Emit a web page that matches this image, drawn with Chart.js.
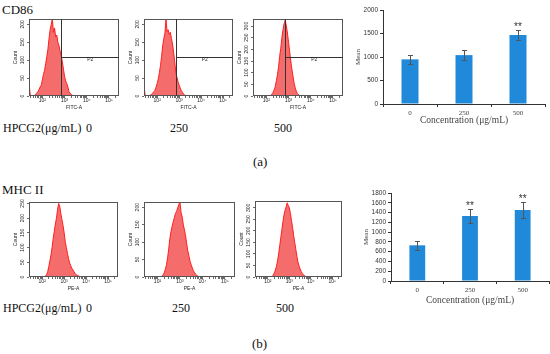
<!DOCTYPE html>
<html><head><meta charset="utf-8">
<script src="https://cdn.jsdelivr.net/npm/chart.js@4/dist/chart.umd.min.js"></script>
<style>
html,body{margin:0;padding:0;background:#fff;}
body{width:550px;height:354px;position:relative;overflow:hidden;font-family:"Liberation Serif","Times New Roman",serif;}
canvas{position:absolute;}
.t{position:absolute;color:#111;white-space:pre;line-height:1;}
</style></head><body>
<div class="t" style="left:2px;top:3px;font-size:13px">CD86</div>
<div class="t" style="left:3px;top:122px;font-size:12px">HPCG2(μg/mL)</div>
<div class="t" style="left:86px;top:122px;font-size:12px">0</div>
<div class="t" style="left:170px;top:122px;font-size:12px">250</div>
<div class="t" style="left:274px;top:122px;font-size:12px">500</div>
<div class="t" style="left:253px;top:155px;font-size:13px">(a)</div>
<div class="t" style="left:2px;top:183px;font-size:13px">MHC II</div>
<div class="t" style="left:3px;top:302px;font-size:12px">HPCG2(μg/mL)</div>
<div class="t" style="left:86px;top:302px;font-size:12px">0</div>
<div class="t" style="left:172px;top:302px;font-size:12px">250</div>
<div class="t" style="left:276px;top:302px;font-size:12px">500</div>
<div class="t" style="left:252px;top:337px;font-size:13px">(b)</div>
<script>
// ---------- data ----------
const histBins = [1.40,1.45,1.50,1.55,1.60,1.65,1.70,1.75,1.80,1.85,1.90,1.95,2.00,2.05,2.10,2.15,2.20,2.25,2.30,2.35,2.40,2.45,2.50,2.55,2.60,2.65,2.70,2.75,2.80,2.85,2.90,2.95,3.00,3.05,3.10,3.15,3.20,3.25,3.30,3.35,3.40,3.45,3.50,3.55,3.60,3.65,3.70,3.75,3.80,3.85,3.90];
const cd86Count0   = [40,5,0,0,0,2,5,8,12,18,25,30,45,60,72,90,110,130,160,185,200,215,178,190,165,170,150,140,125,112,95,75,55,42,35,25,12,8,4,2,1,0,0,0,0,0,0,0,0,0,0];
const cd86Count250 = [28,4,0,0,0,0,3,5,8,12,16,25,35,48,65,85,110,140,160,175,215,180,185,172,178,160,145,120,95,65,52,40,30,22,15,10,6,3,1,0,0,0,0,0,0,0,0,0,0,0,0];
const cd86Count500 = [0,0,0,0,0,0,0,0,0,0,0,0,0,0,0,0,2,8,15,25,40,65,90,125,170,205,250,285,310,325,300,270,230,190,150,115,85,55,35,20,10,5,2,0,0,0,0,0,0,0,0];
const mhcCount0    = [0,0,0,0,0,0,0,0,0,0,0,0,0,0,0,3,8,18,35,55,75,100,130,155,180,200,230,250,240,215,195,175,150,120,100,80,62,48,38,30,24,18,12,8,6,4,2,1,0,0,0];
const mhcCount250  = [6,0,0,0,0,0,0,0,0,0,0,0,0,0,0,0,2,6,12,22,35,55,80,110,130,145,158,170,182,188,198,208,215,185,172,150,135,118,95,75,60,45,35,26,18,12,8,5,2,0,0];
const mhcCount500  = [0,0,0,0,0,0,0,0,0,0,0,0,0,0,0,0,3,8,18,30,47,70,100,135,170,205,240,270,290,305,322,310,300,275,245,215,180,150,120,90,65,48,35,24,16,10,6,3,1,0,0];
const cd86YMax = [215, 215, 330];
const mhcYMax  = [255, 215, 330];
const gateX = 2.84;
const cd86GateY = [109, 108, 168];
const decadeValues = [2, 3, 4, 5];
const decadeLabels = ['10²', '10³', '10⁴', '10⁵'];
const concentrations = ['0', '250', '500'];
const cd86Mean = [950, 1040, 1470];
const cd86Err  = [100, 100, 105];
const cd86Sig  = ['', '', '**'];
const mhcMean  = [730, 1330, 1450];
const mhcErr   = [90, 150, 165];
const mhcSig   = ['', '**', '**'];

// ---------- helpers ----------
function addCanvas(l, t, w, h) {
  const c = document.createElement('canvas');
  c.width = w; c.height = h;
  c.style.left = l + 'px'; c.style.top = t + 'px';
  c.style.width = w + 'px'; c.style.height = h + 'px';
  document.body.appendChild(c);
  return c;
}
function logTicks(min, max) {
  const out = [];
  for (let d = 1; d <= 5; d++) for (let k = 1; k <= 9; k++) {
    const v = d + Math.log10(k);
    if (v >= min - 1e-9 && v <= max + 1e-9) out.push(v);
  }
  return out;
}
const boxPlugin = {
  id: 'boxBorder',
  afterDatasetsDraw(chart) {
    const a = chart.chartArea, ctx = chart.ctx;
    ctx.save(); ctx.strokeStyle = '#555'; ctx.lineWidth = 1;
    ctx.strokeRect(Math.round(a.left) + 0.5, Math.round(a.top) + 0.5, Math.round(a.right - a.left) - 1, Math.round(a.bottom - a.top) - 1);
    ctx.restore();
  }
};
const gatePlugin = {
  id: 'gate',
  afterDatasetsDraw(chart, args, opts) {
    if (!opts || opts.y == null) return;
    const a = chart.chartArea, ctx = chart.ctx;
    const px = Math.round(chart.scales.x.getPixelForValue(opts.x)) + 0.5;
    const py = Math.round(chart.scales.y.getPixelForValue(opts.y)) + 0.5;
    ctx.save(); ctx.strokeStyle = '#333'; ctx.lineWidth = 1;
    ctx.beginPath(); ctx.moveTo(px, a.top); ctx.lineTo(px, a.bottom);
    ctx.moveTo(px, py); ctx.lineTo(a.right, py); ctx.stroke();
    ctx.fillStyle = '#222'; ctx.font = '5px "Liberation Sans"';
    ctx.textAlign = 'center'; ctx.textBaseline = 'middle';
    ctx.fillText(opts.label, (px + a.right) / 2, py + 2);
    ctx.restore();
  }
};
const errPlugin = {
  id: 'errbars',
  afterDatasetsDraw(chart, args, opts) {
    const meta = chart.getDatasetMeta(0), y = chart.scales.y, ctx = chart.ctx;
    const vals = chart.data.datasets[0].data;
    ctx.save(); ctx.strokeStyle = '#555'; ctx.lineWidth = 1;
    meta.data.forEach((bar, i) => {
      const x = Math.round(bar.x) + 0.5;
      const top = Math.round(y.getPixelForValue(vals[i] + opts.err[i])) + 0.5;
      const bot = Math.round(y.getPixelForValue(vals[i] - opts.err[i])) + 0.5;
      ctx.beginPath();
      ctx.moveTo(x, top); ctx.lineTo(x, bot);
      ctx.moveTo(x - 2.5, top); ctx.lineTo(x + 2.5, top);
      ctx.moveTo(x - 2.5, bot); ctx.lineTo(x + 2.5, bot);
      ctx.stroke();
      if (opts.sig[i]) {
        ctx.fillStyle = '#333'; ctx.font = '10px "Liberation Sans"';
        ctx.textAlign = 'center'; ctx.textBaseline = 'alphabetic';
        ctx.fillText(opts.sig[i], bar.x, top - 1);
      }
    });
    ctx.restore();
  }
};

function makeHist(box, vals, ymax, xTitle, gateY) {
  const padL = 18, padT = 4, padR = 4, xH = 16;
  const c = addCanvas(box[0] - padL, box[1] - padT, box[2] - box[0] + padL + padR, box[3] - box[1] + padT + xH);
  const small = {family: 'Liberation Sans', size: 5};
  new Chart(c, {
    type: 'line',
    data: {datasets: [{
      data: histBins.map((x, i) => ({x: x, y: vals[i]})),
      borderColor: '#ff1e1e', borderWidth: 1,
      backgroundColor: 'rgba(244,96,96,0.92)', fill: 'origin',
      pointRadius: 0, tension: 0
    }]},
    options: {
      responsive: false, animation: false, events: [],
      layout: {padding: {top: padT, right: padR, left: 0, bottom: 0}},
      plugins: {legend: {display: false}, tooltip: {enabled: false},
        gate: gateY == null ? {} : {x: gateX, y: gateY, label: 'P2'}},
      scales: {
        x: {type: 'linear', min: 1.4, max: 5.45,
          afterBuildTicks: s => { s.ticks = logTicks(1.4, 5.45).map(v => ({value: v})); },
          afterFit: s => { s.height = xH; },
          border: {display: false},
          grid: {display: true, drawOnChartArea: false, drawTicks: true, tickLength: 2, color: '#444', lineWidth: 0.8},
          ticks: {autoSkip: false, maxRotation: 0, minRotation: 0, padding: 0, font: small, color: '#222',
            callback: v => { const i = decadeValues.findIndex(d => Math.abs(d - v) < 1e-6); return i >= 0 ? decadeLabels[i] : ''; }},
          title: {display: true, text: xTitle, font: small, color: '#222', padding: {top: 0, bottom: 1}}
        },
        y: {type: 'linear', min: 0, max: ymax,
          afterFit: s => { s.width = padL; },
          border: {display: false},
          grid: {display: true, drawOnChartArea: false, tickLength: 2, color: '#444', lineWidth: 0.8},
          ticks: {stepSize: 50, includeBounds: false, autoSkip: false, minRotation: 90, maxRotation: 90,
            crossAlign: 'center', padding: 0, font: small, color: '#222'},
          title: {display: true, text: 'Count', font: small, color: '#222', padding: {top: 2, bottom: 0}}
        }
      }
    },
    plugins: [boxPlugin, gatePlugin]
  });
}

function makeBar(l, t, w, h, yW, xH, padR, means, errs, sigs, ymax, step, barPct) {
  const c = addCanvas(l, t, w, h);
  new Chart(c, {
    type: 'bar',
    data: {labels: concentrations, datasets: [{data: means, backgroundColor: '#2089d9', borderWidth: 0,
      barPercentage: barPct, categoryPercentage: 1}]},
    options: {
      responsive: false, animation: false, events: [],
      layout: {padding: {top: 6, right: padR, left: 0, bottom: 0}},
      plugins: {legend: {display: false}, tooltip: {enabled: false}, errbars: {err: errs, sig: sigs}},
      scales: {
        x: {afterFit: s => { s.height = xH; },
          border: {display: true, color: '#333', width: 1},
          grid: {display: true, drawOnChartArea: false, offset: true, tickLength: 3, color: '#333'},
          ticks: {font: {family: 'Liberation Serif', size: 7}, color: '#444', padding: 2},
          title: {display: true, text: 'Concentration (μg/mL)', font: {family: 'Liberation Serif', size: 9.5}, color: '#444', padding: {top: 0, bottom: 0}}
        },
        y: {min: 0, max: ymax, afterFit: s => { s.width = yW; },
          border: {display: true, color: '#333', width: 1},
          grid: {display: true, drawOnChartArea: false, tickLength: 3, color: '#333'},
          ticks: {stepSize: step, autoSkip: false, font: {family: 'Liberation Sans', size: 6.5}, color: '#333', padding: 2,
            callback: v => String(v)},
          title: {display: true, text: 'Mean', font: {family: 'Liberation Serif', size: 7}, color: '#444', padding: {top: 2, bottom: 0}}
        }
      }
    },
    plugins: [errPlugin]
  });
}

// ---------- row (a): CD86 ----------
const cd86Counts = [cd86Count0, cd86Count250, cd86Count500];
const row1Boxes = [[29, 19, 119, 96], [144, 19, 233, 96], [253, 19, 343, 96]];
row1Boxes.forEach((b, i) => makeHist(b, cd86Counts[i], cd86YMax[i], 'FITC-A', cd86GateY[i]));
makeBar(352, 4, 198, 122, 31, 22, 5, cd86Mean, cd86Err, cd86Sig, 2000, 500, 0.315);

// ---------- row (b): MHC II ----------
const mhcCounts = [mhcCount0, mhcCount250, mhcCount500];
const row2Boxes = [[29, 202, 118, 277], [144, 202, 235, 277], [255, 201, 342, 277]];
row2Boxes.forEach((b, i) => makeHist(b, mhcCounts[i], mhcYMax[i], 'PE-A', null));
makeBar(360, 187, 190, 119, 31, 25, 1, mhcMean, mhcErr, mhcSig, 1800, 200, 0.30);
</script>
</body></html>
